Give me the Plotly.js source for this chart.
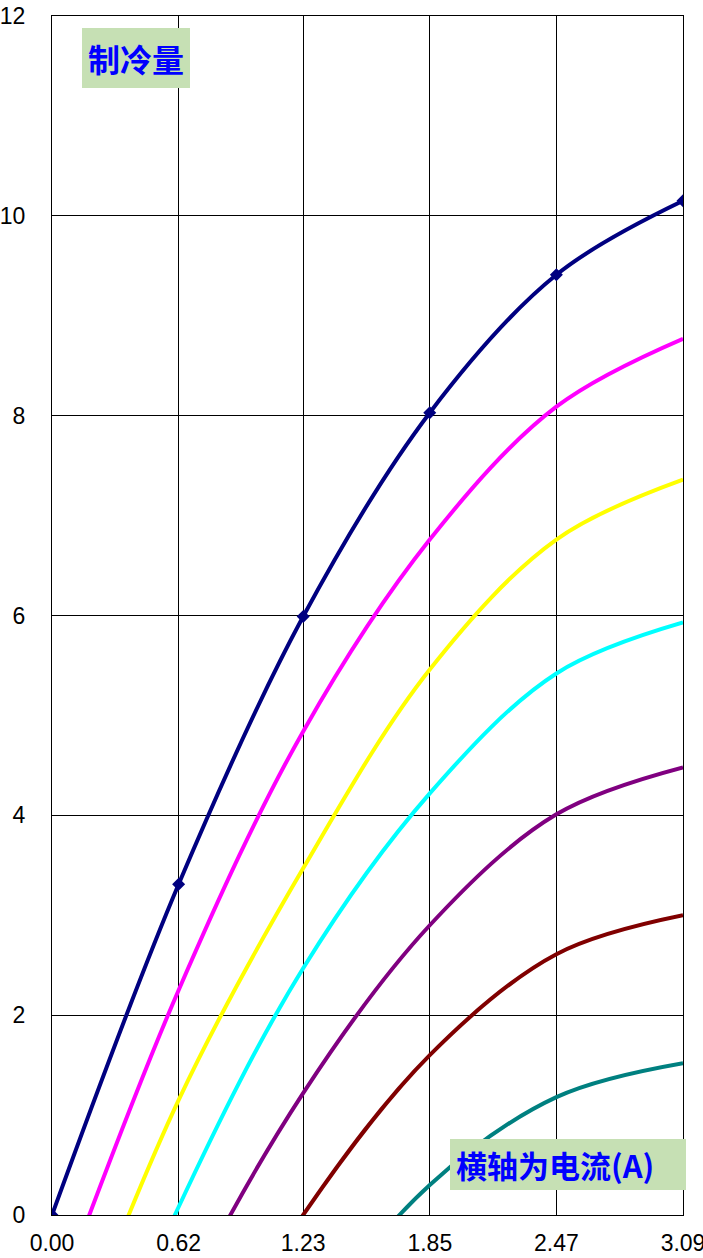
<!DOCTYPE html>
<html>
<head>
<meta charset="utf-8">
<script src="https://cdn.plot.ly/plotly-3.0.1.min.js"></script>
<style>html,body{margin:0;padding:0;background:#fff;}#chart{width:703px;height:1258px;}</style>
</head>
<body>
<div id="chart"></div>
<script>
// Current (A) at the measured points
const currentA = [0.00, 0.62, 1.23, 1.85, 2.47, 3.09];
const xTickLabels = ["0.00", "0.62", "1.23", "1.85", "2.47", "3.09"];
const yTickValues = [0, 2, 4, 6, 8, 10, 12];

// Cooling capacity series (values below 0 are clipped by the axis range)
const seriesNavy    = [0.00, 3.31, 5.99, 8.03, 9.41, 10.15];
const seriesMagenta = [-1.00, 2.25, 4.84, 6.76, 8.09, 8.77];
const seriesYellow  = [-1.95, 1.15, 3.47, 5.46, 6.76, 7.36];
const seriesCyan    = [-2.95, 0.08, 2.47, 4.22, 5.42, 5.93];
const seriesPurple  = [-4.00, -1.00, 1.22, 2.90, 4.01, 4.48];
const seriesDarkRed = [-5.05, -2.10, 0.00, 1.60, 2.61, 3.00];
const seriesTeal    = [-6.10, -3.20, -1.20, 0.30, 1.18, 1.52];

const seriesList = [
  {y: seriesNavy, color: '#000080', markers: true},
  {y: seriesMagenta, color: '#FF00FF'},
  {y: seriesYellow, color: '#FFFF00'},
  {y: seriesCyan, color: '#00FFFF'},
  {y: seriesPurple, color: '#800080'},
  {y: seriesDarkRed, color: '#800000'},
  {y: seriesTeal, color: '#008080'}
];

const traces = seriesList.slice().reverse().map(s => ({
  x: currentA,
  y: s.y,
  type: 'scatter',
  mode: s.markers ? 'lines+markers' : 'lines',
  line: {color: s.color, width: 4, shape: 'spline', smoothing: 1},
  marker: {symbol: 'diamond', size: 10, color: s.color},
  showlegend: false,
  hoverinfo: 'skip'
}));

const tickFont = {family: 'Liberation Sans, Arial, sans-serif', size: 23, color: '#000'};

const layout = {
  width: 703,
  height: 1258,
  margin: {l: 52, r: 20, t: 16, b: 43},
  paper_bgcolor: '#ffffff',
  plot_bgcolor: '#ffffff',
  showlegend: false,
  font: tickFont,
  xaxis: {
    range: [0, 3.09],
    tickmode: 'array',
    tickvals: currentA,
    ticktext: xTickLabels,
    showgrid: true,
    gridcolor: '#000000',
    gridwidth: 1,
    zeroline: false,
    showline: true,
    linecolor: '#000000',
    linewidth: 1,
    mirror: true,
    ticks: '',
    ticklabelstandoff: 7,
    ticklabeloverflow: 'allow',
    tickfont: tickFont
  },
  yaxis: {
    range: [0, 12],
    tickmode: 'array',
    tickvals: yTickValues,
    ticktext: yTickValues.map(String),
    showgrid: true,
    gridcolor: '#000000',
    gridwidth: 1,
    zeroline: false,
    showline: true,
    linecolor: '#000000',
    linewidth: 1,
    mirror: true,
    ticks: '',
    ticklabelstandoff: 21,
    ticklabeloverflow: 'allow',
    tickfont: tickFont
  },
  annotations: [
    {
      xref: 'paper', yref: 'paper',
      x: (82 - 52) / 631, y: (1215 - 28) / 1199,
      xanchor: 'left', yanchor: 'top',
      text: '<b>制冷量</b>',
      showarrow: false,
      bgcolor: '#C6E0B4',
      width: 108, height: 60,
      borderpad: 0, borderwidth: 0,
      align: 'center', valign: 'middle',
      font: {family: 'Noto Sans CJK SC, sans-serif', size: 32, color: '#0000FF'}
    },
    {
      xref: 'paper', yref: 'paper',
      x: (450 - 52) / 631, y: (1215 - 1139) / 1199,
      xanchor: 'left', yanchor: 'top',
      text: '<b>横轴为电流(A)</b>',
      showarrow: false,
      bgcolor: '#C6E0B4',
      width: 224, height: 39,
      borderpad: 6, borderwidth: 0,
      align: 'left', valign: 'middle',
      font: {family: 'Noto Sans CJK SC, sans-serif', size: 31, color: '#0000FF'}
    }
  ]
};

Plotly.newPlot('chart', traces, layout, {staticPlot: true, displayModeBar: false});
</script>
</body>
</html>
